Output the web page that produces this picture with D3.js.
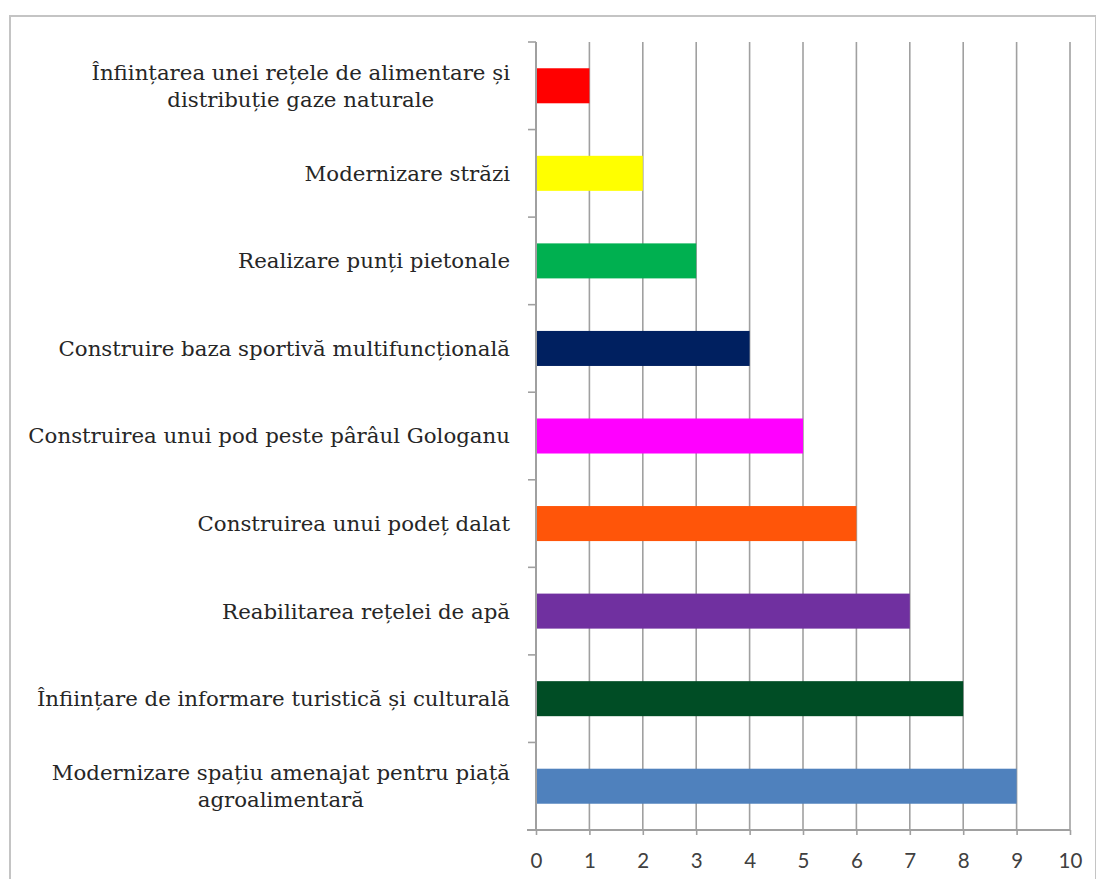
<!DOCTYPE html>
<html><head><meta charset="utf-8">
<script src="https://cdn.jsdelivr.net/npm/d3@7"></script>
<style>body{margin:0;background:#fff}svg{display:block}</style>
</head><body>
<script>
const categories = [
  "Înființarea unei rețele de alimentare și\ndistribuție gaze naturale",
  "Modernizare străzi",
  "Realizare punți pietonale",
  "Construire baza sportivă multifuncțională",
  "Construirea unui pod peste pârâul Gologanu",
  "Construirea unui podeț dalat",
  "Reabilitarea rețelei de apă",
  "Înființare de informare turistică și culturală",
  "Modernizare spațiu amenajat pentru piață\nagroalimentară"
];
const values = [1, 2, 3, 4, 5, 6, 7, 8, 9];
const colors = ["#FF0000", "#FFFF00", "#00B050", "#002060", "#FF00FF", "#FF5509", "#7030A0", "#004D25", "#4F81BD"];
const xTicks = [0, 1, 2, 3, 4, 5, 6, 7, 8, 9, 10];

(function () {
const W = 1096, H = 879;
const svg = d3.select("body").append("svg").attr("width", W).attr("height", H);

// outer border
svg.append("rect").attr("x", 10).attr("y", 16).attr("width", W - 10).attr("height", H - 5)
  .attr("fill", "#fff").attr("stroke", "#c4c4c4").attr("stroke-width", 2);

const pL = 536, pR = 1070, pT = 42, pB = 830;
const x = d3.scaleLinear().domain([0, 10]).range([pL, pR]);
const y = d3.scaleBand().domain(categories).range([pT, pB]).paddingInner(0.6).paddingOuter(0.3);

const gridColor = "#a0a0a0";
// gridlines
svg.append("g").selectAll("line").data(xTicks.slice(1)).join("line")
  .attr("x1", d => x(d)).attr("x2", d => x(d)).attr("y1", pT).attr("y2", pB)
  .attr("stroke", gridColor).attr("stroke-width", 1.6);

// bars
svg.append("g").selectAll("rect").data(values).join("rect")
  .attr("x", x(0)).attr("y", (d, i) => y(categories[i]))
  .attr("width", d => x(d) - x(0)).attr("height", y.bandwidth())
  .attr("fill", (d, i) => colors[i]);

// x axis
const xAxis = d3.axisBottom(x).tickValues(xTicks).tickSize(5).tickPadding(18).tickFormat(d3.format("d"));
const gx = svg.append("g").attr("transform", `translate(0,${pB})`).call(xAxis);
gx.attr("font-size", null).attr("font-family", null);
gx.select(".domain").attr("stroke", gridColor).attr("stroke-width", 2).attr("d", `M${pL - 9},0H${pR}`);
gx.selectAll(".tick line").attr("stroke", gridColor).attr("stroke-width", 1.6);
gx.selectAll(".tick text").attr("fill", "#404040")
  .style("font-family", "Lato, 'Open Sans', 'Liberation Sans', sans-serif").style("font-size", "20.5px");

// y axis line and boundary ticks
svg.append("line").attr("x1", pL).attr("x2", pL).attr("y1", pT).attr("y2", pB)
  .attr("stroke", gridColor).attr("stroke-width", 2);
const step = y.step(), off = (step - y.bandwidth()) / 2;
const bounds = categories.map(c => y(c) - off);
svg.append("g").selectAll("line").data(bounds).join("line")
  .attr("x1", pL - 8).attr("x2", pL).attr("y1", d => d).attr("y2", d => d)
  .attr("stroke", gridColor).attr("stroke-width", 1.6);

// category labels
const labelRight = 510, lineH = 27, targetW = 482;
const fam = "'DejaVu Serif', 'Liberation Serif', serif";
const probe = svg.append("text").attr("font-family", fam).attr("font-size", 20)
  .text("Construirea unui pod peste pârâul Gologanu");
const fs = 20 * targetW / probe.node().getComputedTextLength();
probe.remove();

categories.forEach((c, i) => {
  const lines = c.split("\n");
  const cy = y(c) + y.bandwidth() / 2;
  const g = svg.append("g");
  const texts = lines.map((ln, k) => g.append("text")
    .attr("font-family", fam).attr("font-size", fs).attr("fill", "#262626")
    .attr("text-anchor", "middle")
    .attr("y", cy + (k - (lines.length - 1) / 2) * lineH)
    .attr("dy", "0.35em").text(ln));
  const maxW = d3.max(texts, t => t.node().getComputedTextLength());
  texts.forEach(t => t.attr("x", labelRight - maxW / 2));
});
})();
</script>
</body></html>
